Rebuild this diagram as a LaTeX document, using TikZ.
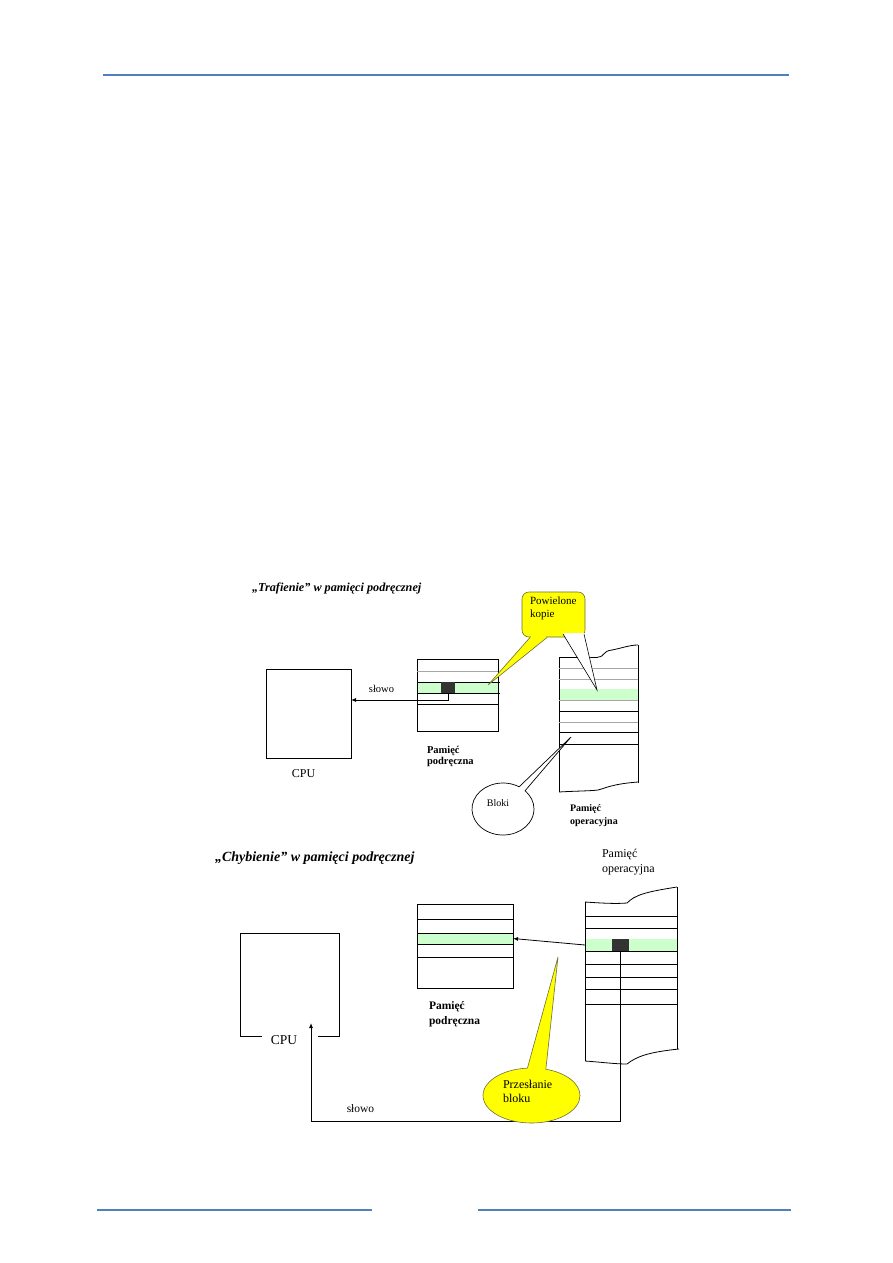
\documentclass[tikz,border=0pt]{standalone}
\usepackage{fontspec}
\setmainfont{Liberation Serif}
\usetikzlibrary{arrows.meta,shapes.callouts,shapes.geometric,calc}
\definecolor{hdr}{RGB}{79,129,189}
\definecolor{rowgreen}{RGB}{204,255,204}
\definecolor{callyel}{RGB}{255,255,0}
\definecolor{calledge}{RGB}{110,110,60}
\definecolor{sqdark}{RGB}{51,51,51}
\tikzset{
  ln/.style={line width=0.8pt,black},
  gln/.style={line width=0.8pt,gray!70},
  boxx/.style={draw=black,line width=0.8pt,inner sep=0pt,outer sep=0pt},
  greenrow/.style={fill=rowgreen,inner sep=0pt,outer sep=0pt},
  blk/.style={fill=sqdark,inner sep=0pt,outer sep=0pt},
  arr/.style={line width=0.8pt,-{Latex[length=5pt,width=4pt]}},
  yel/.style={fill=callyel,draw=calledge,line width=0.6pt},
  lbl/.style={inner sep=0pt,outer sep=0pt},
}
\begin{document}
\begin{tikzpicture}[x=1pt,y=-1pt]
\useasboundingbox (0,0) rectangle (893,1263);
\fill[white] (0,0) rectangle (893,1263);
% header / footer
\draw[hdr,line width=1.2pt] (103,75) -- (789,75);
\draw[hdr,line width=1.2pt] (97,1210) -- (372,1210);
\draw[hdr,line width=1.2pt] (478,1210) -- (791,1210);

%================ TOP DIAGRAM =================
\node[lbl,anchor=west,font=\fontsize{12.2}{14}\selectfont\bfseries\itshape] (t1) at (252,588) {„Trafienie” w pamięci podręcznej};

% CPU
\node[boxx,minimum width=85pt,minimum height=89pt] (cpu1) at (308.5,713.5) {};
\node[lbl,font=\fontsize{12}{14}\selectfont] (cpu1l) at (303.5,774) {CPU};

% cache
\node[greenrow,minimum width=81pt,minimum height=11pt] (crow1) at (457.5,687.5) {};
\node[boxx,minimum width=81pt,minimum height=72pt] (cache1) at (457.5,695) {};
\draw[gln] (417,671) -- (498,671);
\draw[ln] (417,682) -- (500,682);
\draw[ln] (417,693) -- (500,693);
\draw[ln] (417,704) -- (498,704);
\node[blk,minimum width=14pt,minimum height=11pt] (sq1) at (448,687.5) {};
\coordinate (h1) at (0,700);
\draw[arr] (sq1.south) |- (cpu1.east |- h1);
\node[lbl,font=\fontsize{10.5}{12}\selectfont] (w1) at (381.5,689) {słowo};
\node[lbl,anchor=north west,align=left,font=\fontsize{10.5}{11}\selectfont\bfseries] (c1l) at (427,746) {Pamięć\\podręczna};

% main memory (top)
\node[greenrow,minimum width=79pt,minimum height=11pt] (mrow1) at (598.5,694.5) {};
\draw[ln] (598,657) .. controls (605,657) and (602,651) .. (612,650) .. controls (622,648) and (630,645) .. (638,645);
\draw[ln] (559,657) -- (598,657);
\draw[ln] (559,657) -- (559,792);
\draw[ln] (638,645) -- (638,783);
\draw[ln] (559,792) .. controls (575,791) and (590,791) .. (598,790) .. controls (606,788) and (612,784) .. (638,782);
\draw[gln] (559,668) -- (638,668);
\draw[gln] (559,679) -- (638,679);
\draw[gln] (559,700) -- (638,700);
\draw[ln] (559,711) -- (638,711);
\draw[gln] (559,722) -- (638,722);
\draw[ln] (559,732) -- (638,732);
\draw[ln] (559,744) -- (638,744);
\node[lbl,anchor=north west,align=left,font=\fontsize{10}{13}\selectfont\bfseries] (m1l) at (570,805) {Pamięć\\operacyjna};

% callout Powielone kopie
\coordinate (tip1) at (488,685);
\fill[callyel] (530,637.5) -- (tip1) -- (547,637.5) -- cycle;
\node[yel,rounded corners=7pt,minimum width=63pt,minimum height=45pt,inner sep=0pt] (pk) at (553.5,614.5) {};
\fill[callyel] (530.6,635) rectangle (546.4,639);
\draw[calledge,line width=0.6pt] (530,637.5) -- (tip1) -- (547,637.5);
\node[lbl,anchor=north west,align=left,font=\fontsize{11}{12.5}\selectfont] (pkt) at (530,597) {Powielone\\kopie};
% white wedge to main memory
\coordinate (tip2) at (597,690);
\fill[white] (563,633) -- (586,633) -- (586,638) -- (tip2) -- cycle;
\draw[line width=0.6pt] (563,634) -- (tip2) -- (584,634);

% Bloki callout
\node[ellipse callout,draw=black,fill=white,line width=0.7pt,minimum width=62pt,minimum height=52pt,inner sep=0pt,
  callout absolute pointer={(571,737)},callout pointer arc=14] (bl) at (503,809) {};
\node[lbl,font=\fontsize{10}{12}\selectfont] (blt) at (498,803) {Bloki};

%================ BOTTOM DIAGRAM =================
\node[lbl,anchor=west,font=\fontsize{14}{15}\selectfont\bfseries\itshape] (t2) at (215,858) {„Chybienie” w pamięci podręcznej};
\node[lbl,anchor=north west,align=left,font=\fontsize{12}{15}\selectfont] (m2l) at (602,849) {Pamięć\\operacyjna};

% CPU 2
\node[inner sep=0pt,outer sep=0pt,minimum width=99pt,minimum height=103pt] (cpu2) at (289.5,984.5) {};
\draw[ln] ($(cpu2.south west)+(22,0)$) -- (cpu2.south west) -- (cpu2.north west) -- (cpu2.north east) -- (cpu2.south east) -- ++(-21,0);
\node[lbl,font=\fontsize{13.5}{15}\selectfont] (cpu2l) at (284,1040) {CPU};

% cache 2
\node[greenrow,minimum width=96pt,minimum height=11pt] (crow2) at (465,938.5) {};
\node[boxx,minimum width=96pt,minimum height=84pt] (cache2) at (465,946) {};
\draw[ln] (417,919) -- (513,919);
\draw[ln] (417,933) -- (513,933);
\draw[ln] (417,944) -- (514,944);
\draw[ln] (417,957) -- (513,957);
\node[lbl,anchor=north west,align=left,font=\fontsize{11.5}{15}\selectfont\bfseries] (c2l) at (429,1001) {Pamięć\\podręczna};

% main memory 2
\node[greenrow,minimum width=92pt,minimum height=12pt] (mrow2) at (631,945) {};
\draw[ln] (585,902) .. controls (600,903) and (615,904) .. (627,903) .. controls (635,895) and (645,892) .. (677,887);
\draw[ln] (585,902) -- (585,1061);
\draw[ln] (677,887) -- (677,1049);
\draw[ln] (585,1061) .. controls (600,1062) and (615,1064) .. (627,1064) .. controls (637,1056) and (650,1052) .. (679,1049);
\draw[ln] (585,916) -- (677,916);
\draw[ln] (585,928) -- (677,928);
\draw[ln] (585,951) -- (677,951);
\draw[ln] (585,964) -- (677,964);
\draw[ln] (585,977) -- (677,977);
\draw[ln] (585,989) -- (677,989);
\draw[ln] (585,1004) -- (677,1004);
\node[blk,minimum width=17pt,minimum height=12pt] (sq2) at (620.5,945) {};

% arrows
\draw[arr] (mrow2.west) -- (crow2.east);
\coordinate (cpuin) at (311,1023);
\coordinate (h2) at (0,1121);
\draw[arr] (sq2.south) |- (cpuin |- h2) -- (cpuin);
\node[lbl,font=\fontsize{11.5}{13}\selectfont] (w2) at (360.5,1109) {słowo};

% Przesłanie bloku callout
\node[ellipse callout,yel,minimum width=97pt,minimum height=55pt,inner sep=0pt,
  callout absolute pointer={(558,957)},callout pointer arc=22] (pb) at (531.5,1095.5) {};
\node[lbl,anchor=north west,align=left,font=\fontsize{12}{14.5}\selectfont] (pbt) at (503,1080) {Przesłanie\\bloku};
\end{tikzpicture}
\end{document}
